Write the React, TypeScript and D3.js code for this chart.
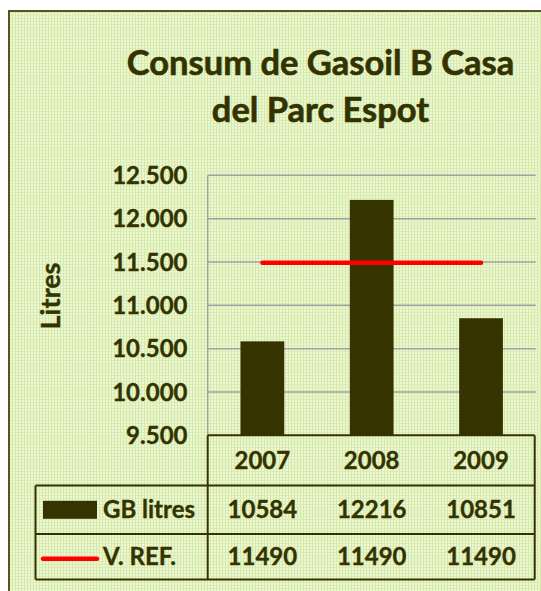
import React, { useEffect, useRef } from 'react';
import * as d3 from 'd3';

// Chart data
const years = ['2007', '2008', '2009'];
const gbLitres = [10584, 12216, 10851];
const vRef = [11490, 11490, 11490];
const yTicks = [9500, 10000, 10500, 11000, 11500, 12000, 12500];
const seriesNames = ['GB litres', 'V. REF.'];
const titleLines = ['Consum de Gasoil B Casa', 'del Parc Espot'];
const yLabel = 'Litres';

const TEXT = '#333300';
const FONT = 'Lato, sans-serif';

export default function App() {
  const svgRef = useRef<SVGSVGElement | null>(null);

  useEffect(() => {
    const width = 541;
    const height = 591;
    const plot = { left: 207.7, right: 535.7, top: 175.3, bottom: 435.3 };
    const rows = [435.3, 485.6, 534, 579.4];
    const tableLeft = 35.5;

    const svg = d3.select(svgRef.current).attr('width', width).attr('height', height);
    svg.selectAll('*').remove();

    // Background hatch like the Excel pattern fill
    const defs = svg.append('defs');
    const pat = defs.append('pattern').attr('id', 'bg-hatch').attr('patternUnits', 'userSpaceOnUse')
      .attr('width', 3).attr('height', 3);
    pat.append('rect').attr('width', 3).attr('height', 3).attr('fill', '#eef7d6');
    pat.append('rect').attr('width', 1).attr('height', 3).attr('fill', '#d2e8a4');
    pat.append('rect').attr('width', 3).attr('height', 1).attr('fill', '#d9ecb2');

    svg.append('rect').attr('width', width).attr('height', height).attr('fill', '#ffffff');
    svg.append('rect').attr('x', 9).attr('y', 11).attr('width', width + 20).attr('height', height + 20)
      .attr('fill', 'url(#bg-hatch)').attr('stroke', '#55551f').attr('stroke-width', 2);

    // Title
    svg.append('text').attr('x', 320.5).attr('y', 75).attr('text-anchor', 'middle')
      .attr('font-family', FONT).attr('font-weight', 700).attr('font-size', 34.5).attr('fill', TEXT)
      .attr('stroke', TEXT).attr('stroke-width', 0.6)
      .selectAll('tspan').data(titleLines).join('tspan')
      .attr('x', 320.5).attr('dy', (_d, i) => (i === 0 ? 0 : 47)).text(d => d);

    const x = d3.scaleBand<string>().domain(years).range([plot.left, plot.right])
      .paddingInner(0.6).paddingOuter(0.3);
    const xc = d3.scaleBand<string>().domain(years).range([plot.left, plot.right]);
    const y = d3.scaleLinear().domain([9500, 12500]).range([plot.bottom, plot.top]);
    const fmt = d3.formatLocale({ decimal: ',', thousands: '.', grouping: [3], currency: ['', ''] }).format(',');

    // Gridlines
    svg.append('g').selectAll('line').data(yTicks.slice(1)).join('line')
      .attr('x1', plot.left).attr('x2', plot.right)
      .attr('y1', d => y(d)).attr('y2', d => y(d))
      .attr('stroke', '#a2a2a2').attr('stroke-width', 1.5);
    svg.append('line').attr('x1', plot.left).attr('x2', plot.left).attr('y1', plot.top).attr('y2', plot.bottom)
      .attr('stroke', '#a2a2a2').attr('stroke-width', 1.5);

    // Y tick labels
    svg.append('g').selectAll('text').data(yTicks).join('text')
      .attr('x', 187.5).attr('y', d => y(d)).attr('dy', '0.36em').attr('text-anchor', 'end')
      .attr('font-family', FONT).attr('font-weight', 700).attr('font-size', 24).attr('fill', TEXT)
      .attr('stroke', TEXT).attr('stroke-width', 0.35)
      .text(d => fmt(d));

    // Y axis title
    svg.append('text').attr('transform', 'translate(60,296) rotate(-90)').attr('text-anchor', 'middle')
      .attr('font-family', FONT).attr('font-weight', 700).attr('font-size', 27).attr('fill', TEXT)
      .attr('stroke', TEXT).attr('stroke-width', 0.4)
      .text(yLabel);

    // Bars
    svg.append('g').selectAll('rect').data(years).join('rect')
      .attr('x', d => x(d) as number).attr('width', x.bandwidth())
      .attr('y', (_d, i) => y(gbLitres[i])).attr('height', (_d, i) => plot.bottom - y(gbLitres[i]))
      .attr('fill', '#353300');

    // Reference line
    const line = d3.line<number>().x((_d, i) => (xc(years[i]) as number) + xc.bandwidth() / 2).y(d => y(d));
    svg.append('path').datum(vRef).attr('d', line).attr('fill', 'none')
      .attr('stroke', '#ff0000').attr('stroke-width', 4.5).attr('stroke-linecap', 'round');

    // Data table
    const tg = svg.append('g').attr('stroke', TEXT).attr('stroke-width', 2).attr('fill', 'none');
    tg.append('line').attr('x1', plot.left).attr('x2', plot.right - 1).attr('y1', rows[0]).attr('y2', rows[0]);
    rows.slice(1).forEach(r => {
      tg.append('line').attr('x1', tableLeft).attr('x2', plot.right - 1).attr('y1', r).attr('y2', r);
    });
    tg.append('line').attr('x1', plot.left).attr('x2', plot.left).attr('y1', rows[0]).attr('y2', rows[3]);
    tg.append('line').attr('x1', plot.right - 1).attr('x2', plot.right - 1).attr('y1', rows[0]).attr('y2', rows[3]);
    tg.append('line').attr('x1', tableLeft).attr('x2', tableLeft).attr('y1', rows[1]).attr('y2', rows[3]);

    const cellText = (sel: d3.Selection<SVGGElement, unknown, null, undefined>) =>
      sel.attr('font-family', FONT).attr('font-weight', 700).attr('font-size', 24).attr('fill', TEXT)
        .attr('stroke', TEXT).attr('stroke-width', 0.35).attr('text-anchor', 'middle');

    const rowsData: (string | number)[][] = [years, gbLitres, vRef];
    rowsData.forEach((vals, r) => {
      const cy = (rows[r] + rows[r + 1]) / 2;
      svg.append('g').call(cellText).selectAll('text').data(vals).join('text')
        .attr('x', (_d, i) => (xc(years[i]) as number) + xc.bandwidth() / 2)
        .attr('y', cy).attr('dy', '0.36em').text(d => String(d));
    });

    // Legend keys in table
    const r1 = (rows[1] + rows[2]) / 2;
    const r2 = (rows[2] + rows[3]) / 2;
    svg.append('rect').attr('x', 43).attr('y', r1 - 9).attr('width', 54).attr('height', 18).attr('fill', '#353300');
    svg.append('line').attr('x1', 43).attr('x2', 97).attr('y1', r2 + 2).attr('y2', r2 + 2)
      .attr('stroke', '#ff0000').attr('stroke-width', 4.5).attr('stroke-linecap', 'round');
    svg.append('g').attr('font-family', FONT).attr('font-weight', 700).attr('font-size', 24).attr('fill', TEXT)
      .attr('stroke', TEXT).attr('stroke-width', 0.35)
      .selectAll('text').data(seriesNames).join('text')
      .attr('x', 103).attr('y', (_d, i) => (i === 0 ? r1 : r2)).attr('dy', '0.36em').text(d => d);
  }, []);

  return (
    <div style={{ position: 'absolute', left: 0, top: 0 }}>
      <svg ref={svgRef} style={{ display: 'block' }} />
    </div>
  );
}
